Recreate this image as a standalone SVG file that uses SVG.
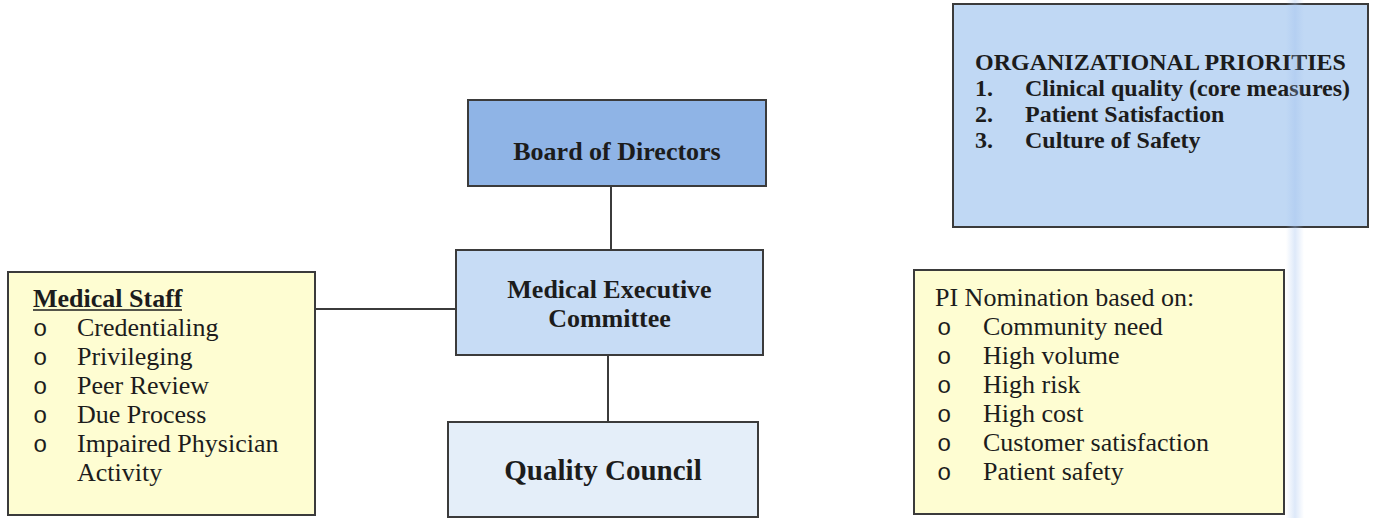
<svg xmlns="http://www.w3.org/2000/svg" width="1375" height="518" viewBox="0 0 1375 518">
  <defs>
    <linearGradient id="scanBand" x1="0" y1="0" x2="1" y2="0">
      <stop offset="0" stop-color="#9fbfee" stop-opacity="0"/>
      <stop offset="0.5" stop-color="#9fbfee" stop-opacity="0.35"/>
      <stop offset="1" stop-color="#9fbfee" stop-opacity="0"/>
    </linearGradient>
  </defs>
  <style>
    .box { stroke: #3b3b3b; stroke-width: 2; }
    .board { fill: #8fb4e6; }
    .mec { fill: #c7dcf5; }
    .qc { fill: #e4eef9; }
    .prio { fill: #c0d8f4; }
    .note { fill: #fefdd2; }
    .conn { stroke: #3b3b3b; stroke-width: 2; fill: none; }
    text { font-family: "Liberation Serif", "Times New Roman", serif; fill: #1c1c1c; }
    .b { font-weight: bold; }
    .t26 { font-size: 26px; }
    .t24 { font-size: 24px; }
    .t29 { font-size: 29px; }
    .mid { text-anchor: middle; }
    .bul { font-family: "Liberation Mono", "Courier New", monospace; font-size: 24px; }
  </style>

  <rect width="1375" height="518" fill="#ffffff"/>

  <!-- connectors -->
  <g id="connectors">
    <line class="conn" x1="611" y1="186" x2="611" y2="250"/>
    <line class="conn" x1="608" y1="355" x2="608" y2="422"/>
    <line class="conn" x1="315" y1="309" x2="456" y2="309"/>
  </g>

  <g id="board">
    <rect class="box board" x="468" y="100" width="298" height="86"/>
    <text class="b t26 mid" x="617" y="160">Board of Directors</text>
  </g>

  <g id="mec">
    <rect class="box mec" x="456" y="250" width="307" height="105"/>
    <text class="b t26 mid" x="609.5" y="298">Medical Executive</text>
    <text class="b t26 mid" x="609.5" y="327">Committee</text>
  </g>

  <g id="quality-council">
    <rect class="box qc" x="448" y="422" width="310" height="95"/>
    <text class="b t29 mid" x="603" y="480">Quality Council</text>
  </g>

  <g id="medical-staff">
    <rect class="box note" x="8" y="272" width="307" height="243"/>
    <text class="b t26" x="33" y="307">Medical Staff</text>
    <line x1="33" y1="310" x2="182" y2="310" stroke="#1c1c1c" stroke-width="1.6"/>
    <text class="bul" x="33" y="336">o</text>
    <text class="t26" x="77" y="336">Credentialing</text>
    <text class="bul" x="33" y="365">o</text>
    <text class="t26" x="77" y="365">Privileging</text>
    <text class="bul" x="33" y="394">o</text>
    <text class="t26" x="77" y="394">Peer Review</text>
    <text class="bul" x="33" y="423">o</text>
    <text class="t26" x="77" y="423">Due Process</text>
    <text class="bul" x="33" y="452">o</text>
    <text class="t26" x="77" y="452">Impaired Physician</text>
    <text class="t26" x="77" y="481">Activity</text>
  </g>

  <g id="priorities">
    <rect class="box prio" x="953" y="4" width="415" height="223"/>
    <text class="b t24" x="975" y="70">ORGANIZATIONAL PRIORITIES</text>
    <text class="b t24" x="975" y="96">1.</text>
    <text class="b t24" x="1025" y="96">Clinical quality (core measures)</text>
    <text class="b t24" x="975" y="122">2.</text>
    <text class="b t24" x="1025" y="122">Patient Satisfaction</text>
    <text class="b t24" x="975" y="148">3.</text>
    <text class="b t24" x="1025" y="148">Culture of Safety</text>
  </g>

  <g id="pi-nomination">
    <rect class="box note" x="914" y="270" width="370" height="244"/>
    <text class="t26" x="935" y="306">PI Nomination based on:</text>
    <text class="bul" x="937" y="335">o</text>
    <text class="t26" x="983" y="335">Community need</text>
    <text class="bul" x="937" y="364">o</text>
    <text class="t26" x="983" y="364">High volume</text>
    <text class="bul" x="937" y="393">o</text>
    <text class="t26" x="983" y="393">High risk</text>
    <text class="bul" x="937" y="422">o</text>
    <text class="t26" x="983" y="422">High cost</text>
    <text class="bul" x="937" y="451">o</text>
    <text class="t26" x="983" y="451">Customer satisfaction</text>
    <text class="bul" x="937" y="480">o</text>
    <text class="t26" x="983" y="480">Patient safety</text>
  </g>

  <!-- faint vertical scan band on the right -->
  <rect x="1286" y="0" width="18" height="518" fill="url(#scanBand)"/>
</svg>
